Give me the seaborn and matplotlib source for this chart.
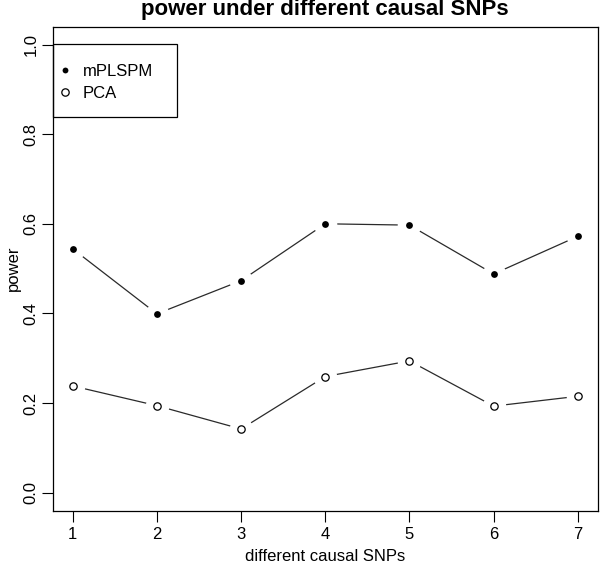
"""Power of mPLSPM vs PCA under different causal SNPs (R base-graphics look)."""

import matplotlib

matplotlib.use("Agg")

import matplotlib.pyplot as plt
import pandas as pd
import seaborn as sns
from matplotlib.lines import Line2D
from matplotlib.patches import Rectangle

snps = [1, 2, 3, 4, 5, 6, 7]
mplspm_power = [0.544, 0.399, 0.473, 0.600, 0.597, 0.488, 0.572]
pca_power = [0.238, 0.194, 0.142, 0.259, 0.294, 0.193, 0.215]
y_ticks = [0.0, 0.2, 0.4, 0.6, 0.8, 1.0]
y_tick_labels = ["0.0", "0.2", "0.4", "0.6", "0.8", "1.0"]

sns.set_theme(style="white")
plt.rcParams["font.family"] = ["Liberation Sans", "DejaVu Sans"]
plt.rcParams["text.color"] = "black"
plt.rcParams["axes.labelcolor"] = "black"

df = pd.concat(
    [
        pd.DataFrame({"snp": snps, "power": mplspm_power, "method": "mPLSPM"}),
        pd.DataFrame({"snp": snps, "power": pca_power, "method": "PCA"}),
    ],
    ignore_index=True,
)

fig = plt.figure(figsize=(6.0, 5.67), dpi=100)
ax = fig.add_axes([0.0875, 0.0996, 0.9092, 0.8534])

# connecting lines, kept underneath everything else
for method, grp in df.groupby("method"):
    ax.plot(grp["snp"], grp["power"], color="#2a2a2a", linewidth=0.9, zorder=1)

# white discs leave the R type="b" gap between line and point
ax.plot(df["snp"], df["power"], linestyle="none", marker="o", markersize=17,
        markerfacecolor="white", markeredgewidth=0, zorder=4)

sns.scatterplot(
    data=df[df["method"] == "mPLSPM"], x="snp", y="power", color="black",
    s=24, linewidth=0, ax=ax, legend=False, zorder=5,
)
sns.scatterplot(
    data=df[df["method"] == "PCA"], x="snp", y="power", facecolor="white",
    edgecolor="black", s=28, linewidth=0.9, ax=ax, legend=False, zorder=5,
)

ax.set_xlim(0.76, 7.24)
ax.set_ylim(-0.04, 1.04)
ax.set_xticks(snps)
ax.set_xticklabels([str(s) for s in snps])
ax.set_yticks(y_ticks)
ax.set_yticklabels(y_tick_labels, rotation=90, va="center")
ax.tick_params(
    axis="both", direction="out", length=8, width=0.8, color="black",
    labelsize=12, labelcolor="black", left=True, bottom=True,
)
ax.tick_params(axis="x", pad=4)
ax.tick_params(axis="y", pad=2)
for spine in ax.spines.values():
    spine.set_visible(True)
    spine.set_color("black")
    spine.set_linewidth(0.9)

ax.set_xlabel("different causal SNPs", fontsize=12, labelpad=5)
ax.set_ylabel("power", fontsize=12)
ax.yaxis.set_label_coords(-0.058, 0.5)
fig.text(0.542, 1 - 10 / 567, "power under different causal SNPs",
         ha="center", va="center", fontsize=16, fontweight="bold")

# legend: R-style square box with markers only
ax.add_patch(Rectangle((0.0, 0.8127), 0.2277, 0.1509, transform=ax.transAxes,
                       fill=False, edgecolor="black", linewidth=0.9,
                       clip_on=False, zorder=10))
handles = [
    Line2D([], [], linestyle="none", marker="o", markersize=4.2,
           markerfacecolor="black", markeredgecolor="black", markeredgewidth=0),
    Line2D([], [], linestyle="none", marker="o", markersize=5.3,
           markerfacecolor="white", markeredgecolor="black", markeredgewidth=0.9),
]
ax.legend(
    handles, ["mPLSPM", "PCA"], loc="upper left",
    bbox_to_anchor=(0.0229, 0.9237), borderaxespad=0, borderpad=0,
    fontsize=12, frameon=False, handlelength=0, handletextpad=1.06,
    labelspacing=0.45,
)

fig.savefig("out.png", dpi=100)
